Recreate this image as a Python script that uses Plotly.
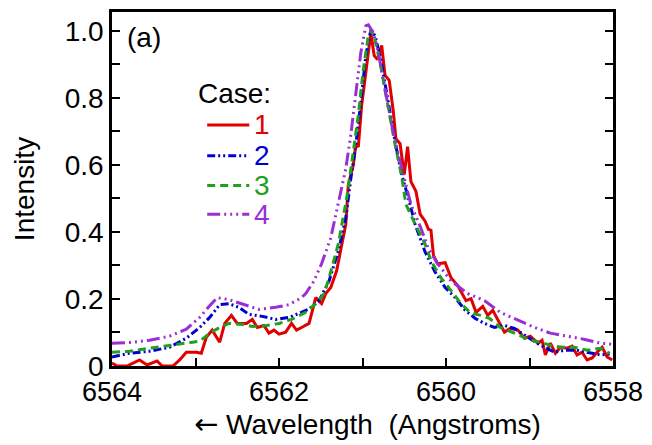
import plotly.graph_objects as go

# ---- data (wavelength in Angstroms, normalised intensity) ----
case1_wl = [6564.0, 6563.94, 6563.82, 6563.67, 6563.58, 6563.46, 6563.40, 6563.27, 6563.19, 6563.11,
            6562.99, 6562.93, 6562.87, 6562.80, 6562.71, 6562.65, 6562.57, 6562.50, 6562.39, 6562.32,
            6562.26, 6562.18, 6562.12, 6562.06, 6562.00, 6561.92, 6561.85, 6561.79, 6561.73, 6561.64,
            6561.56, 6561.49, 6561.44, 6561.38, 6561.31, 6561.25, 6561.20, 6561.17, 6561.11, 6561.08,
            6561.05, 6561.01, 6560.95, 6560.90, 6560.86, 6560.82, 6560.77, 6560.73, 6560.68, 6560.63,
            6560.60, 6560.55, 6560.50, 6560.46, 6560.42, 6560.36, 6560.31, 6560.25, 6560.21, 6560.18,
            6560.15, 6560.10, 6560.01, 6559.94, 6559.86, 6559.76, 6559.70, 6559.64, 6559.56, 6559.50,
            6559.44, 6559.36, 6559.30, 6559.23, 6559.14, 6559.06, 6558.99, 6558.90, 6558.85, 6558.81,
            6558.75, 6558.69, 6558.63, 6558.55, 6558.49, 6558.43, 6558.37, 6558.31, 6558.25, 6558.19,
            6558.13, 6558.07, 6558.01]
case1_int = [0.009, 0.0, 0.0, 0.018, 0.003, 0.015, 0.0, 0.0, 0.018, 0.041,
             0.041, 0.038, 0.086, 0.107, 0.071, 0.127, 0.151, 0.127, 0.127, 0.139,
             0.115, 0.121, 0.098, 0.107, 0.095, 0.101, 0.127, 0.107, 0.115, 0.127,
             0.204, 0.186, 0.216, 0.234, 0.284, 0.364, 0.423, 0.541, 0.600, 0.660,
             0.654, 0.778, 0.905, 0.994, 0.926, 0.914, 0.956, 0.867, 0.852, 0.757,
             0.678, 0.663, 0.571, 0.654, 0.550, 0.521, 0.453, 0.432, 0.408, 0.405,
             0.330, 0.305, 0.308, 0.263, 0.240, 0.195, 0.201, 0.160, 0.178, 0.151,
             0.166, 0.130, 0.101, 0.112, 0.107, 0.083, 0.089, 0.068, 0.077, 0.033,
             0.068, 0.038, 0.056, 0.053, 0.059, 0.033, 0.041, 0.018, 0.024, 0.041,
             0.056, 0.027, 0.018]

case2_wl = [6564.0, 6563.79, 6563.55, 6563.31, 6563.11, 6562.95, 6562.83, 6562.71, 6562.60, 6562.48,
            6562.36, 6562.20, 6562.04, 6561.88, 6561.76, 6561.64, 6561.52, 6561.40, 6561.29, 6561.20,
            6561.14, 6561.08, 6561.02, 6560.96, 6560.90, 6560.85, 6560.79, 6560.73, 6560.67, 6560.61,
            6560.54, 6560.45, 6560.37, 6560.25, 6560.13, 6560.01, 6559.89, 6559.77, 6559.65, 6559.54,
            6559.42, 6559.30, 6559.18, 6559.02, 6558.87, 6558.70, 6558.58, 6558.43, 6558.27, 6558.15,
            6558.04]
case2_int = [0.027, 0.038, 0.044, 0.056, 0.083, 0.115, 0.145, 0.183, 0.186, 0.175,
             0.154, 0.148, 0.139, 0.145, 0.157, 0.170, 0.195, 0.254, 0.343, 0.441,
             0.559, 0.660, 0.787, 0.926, 1.003, 0.985, 0.926, 0.846, 0.757, 0.669,
             0.580, 0.500, 0.423, 0.340, 0.280, 0.234, 0.204, 0.166, 0.142, 0.127,
             0.115, 0.121, 0.112, 0.086, 0.062, 0.041, 0.047, 0.047, 0.038, 0.033,
             0.036]

case3_wl = [6564.0, 6563.79, 6563.55, 6563.31, 6563.11, 6562.95, 6562.83, 6562.71, 6562.60, 6562.44,
            6562.32, 6562.15, 6562.00, 6561.85, 6561.68, 6561.56, 6561.46, 6561.40, 6561.29, 6561.19,
            6561.11, 6561.05, 6560.99, 6560.93, 6560.89, 6560.85, 6560.79, 6560.73, 6560.67, 6560.61,
            6560.54, 6560.48, 6560.37, 6560.25, 6560.18, 6560.06, 6559.94, 6559.82, 6559.70, 6559.58,
            6559.48, 6559.35, 6559.18, 6559.02, 6558.87, 6558.75, 6558.63, 6558.46, 6558.31, 6558.15,
            6558.04]
case3_int = [0.041, 0.044, 0.053, 0.062, 0.068, 0.074, 0.098, 0.115, 0.127, 0.124,
             0.118, 0.121, 0.127, 0.139, 0.160, 0.186, 0.216, 0.263, 0.364, 0.500,
             0.639, 0.749, 0.885, 0.985, 1.003, 0.973, 0.905, 0.825, 0.737, 0.660,
             0.580, 0.482, 0.423, 0.364, 0.314, 0.263, 0.225, 0.186, 0.157, 0.151,
             0.142, 0.115, 0.098, 0.080, 0.071, 0.062, 0.056, 0.056, 0.047, 0.053,
             0.038]

case4_wl = [6564.0, 6563.79, 6563.55, 6563.31, 6563.11, 6562.95, 6562.83, 6562.74, 6562.60, 6562.44,
            6562.24, 6562.04, 6561.88, 6561.73, 6561.68, 6561.58, 6561.49, 6561.38, 6561.29, 6561.20,
            6561.14, 6561.08, 6561.02, 6560.96, 6560.93, 6560.87, 6560.81, 6560.73, 6560.65, 6560.57,
            6560.49, 6560.42, 6560.30, 6560.21, 6560.10, 6559.94, 6559.74, 6559.54, 6559.35, 6559.14,
            6558.94, 6558.75, 6558.55, 6558.35, 6558.15, 6558.01]
case4_int = [0.068, 0.070, 0.077, 0.089, 0.110, 0.145, 0.180, 0.204, 0.198, 0.186,
             0.169, 0.175, 0.183, 0.204, 0.216, 0.254, 0.305, 0.382, 0.482, 0.589,
             0.690, 0.808, 0.935, 1.015, 1.018, 0.994, 0.935, 0.825, 0.719, 0.630,
             0.550, 0.482, 0.411, 0.350, 0.305, 0.254, 0.216, 0.195, 0.160, 0.136,
             0.115, 0.098, 0.089, 0.080, 0.068, 0.065]

case_labels = ["1", "2", "3", "4"]
x_tickvals = [6564, 6562, 6560, 6558]
x_ticktext = ["6564", "6562", "6560", "6558"]
y_tickvals = [0, 0.2, 0.4, 0.6, 0.8, 1.0]
y_ticktext = ["0", "0.2", "0.4", "0.6", "0.8", "1.0"]

# ---- styles ----
FONT = "Liberation Sans, Arial, sans-serif"
colors = ["#e00000", "#0000d0", "#1fa01f", "#9a2fd6"]
dashes = ["solid", "8px,3px,2px,3px,2px,3px", "8px,5px", "13px,4px,2px,4px,2px,4px,2px,4px"]
series = [(case1_wl, case1_int), (case2_wl, case2_int), (case3_wl, case3_int), (case4_wl, case4_int)]

fig = go.Figure()
for (wl, it), lab, c, d in zip(series, case_labels, colors, dashes):
    fig.add_trace(go.Scatter(x=wl, y=it, mode="lines", name=lab,
                             line=dict(color=c, width=3, dash=d), showlegend=False))

# manual legend ("Case:" block)
leg_y = [0.681, 0.594, 0.510, 0.429]
for lab, c, d, yy in zip(case_labels, colors, dashes, leg_y):
    fig.add_shape(type="line", xref="paper", yref="paper", x0=0.190, x1=0.274, y0=yy, y1=yy,
                  line=dict(color=c, width=3, dash=d))
    fig.add_annotation(xref="paper", yref="paper", x=0.279, y=yy, text=lab, showarrow=False,
                       xanchor="left", yanchor="middle", font=dict(family=FONT, size=28, color=c))
fig.add_annotation(xref="paper", yref="paper", x=0.168, y=0.770, text="Case:", showarrow=False,
                   xanchor="left", yanchor="middle", font=dict(family=FONT, size=28, color="black"))
fig.add_annotation(xref="paper", yref="paper", x=0.026, y=0.928, text="(a)", showarrow=False,
                   xanchor="left", yanchor="middle", font=dict(family=FONT, size=28, color="black"))

# x-axis title (placed as annotation for exact vertical position)
arrow = '<span style="font-family:DejaVu Sans;font-size:29px">\u2190</span>'
fig.add_annotation(xref="paper", yref="paper", x=0.51, y=-0.163, text=arrow + " Wavelength \u00a0(Angstroms)",
                   showarrow=False, xanchor="center", yanchor="middle",
                   font=dict(family=FONT, size=28, color="black"))

fig.update_layout(
    width=652, height=445,
    margin=dict(l=112, r=36, t=9, b=79),
    paper_bgcolor="white", plot_bgcolor="white",
    font=dict(family=FONT, size=28, color="black"),
)
fig.update_xaxes(
    range=[6564, 6558], tickvals=x_tickvals, ticktext=x_ticktext,
    ticks="inside", ticklen=8, tickwidth=2, tickcolor="black",
    minor=dict(dtick=1, tick0=6558, ticks="inside", ticklen=8, tickwidth=2, tickcolor="black"),
    showline=True, linewidth=2.5, linecolor="black", mirror=True,
    showgrid=False, zeroline=False,
    tickfont=dict(family=FONT, size=27),
)
fig.update_yaxes(
    range=[0, 1.056], tickvals=y_tickvals, ticktext=y_ticktext,
    ticks="inside", ticklen=8, tickwidth=2, tickcolor="black",
    minor=dict(dtick=0.1, tick0=0, ticks="inside", ticklen=8, tickwidth=2, tickcolor="black"),
    showline=True, linewidth=2.5, linecolor="black", mirror="ticks",
    showgrid=False, zeroline=False,
    title=dict(text="Intensity", font=dict(family=FONT, size=28), standoff=22),
    tickfont=dict(family=FONT, size=28),
)

fig.write_html("out.html")
